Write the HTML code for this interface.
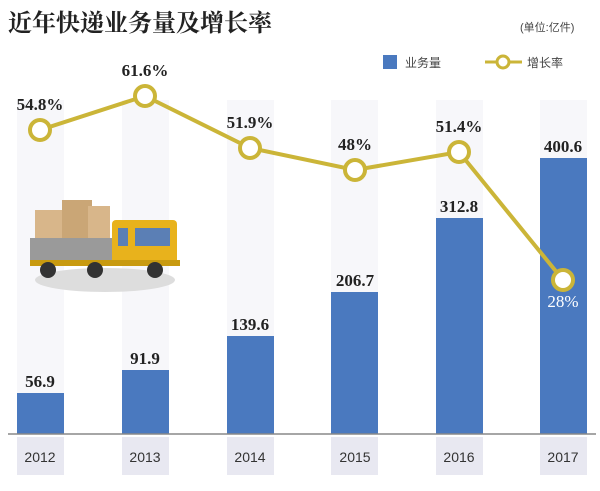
<!DOCTYPE html>
<html><head><meta charset="utf-8"><style>
body{margin:0;background:#fff}
svg{display:block}
.v{font-family:"Liberation Serif","Noto Serif CJK SC",serif;font-weight:bold;font-size:17px;fill:#222;text-anchor:middle}
.y{font-family:"Liberation Sans",sans-serif;font-size:14px;fill:#333;text-anchor:middle}
</style></head><body>
<svg width="600" height="491" viewBox="0 0 600 491">
<rect width="600" height="491" fill="#fff"/>
<g fill="#f7f7fa">
<rect x="17" y="100" width="47" height="334"/><rect x="122" y="100" width="47" height="334"/>
<rect x="227" y="100" width="47" height="334"/><rect x="331" y="100" width="47" height="334"/>
<rect x="436" y="100" width="47" height="334"/><rect x="540" y="100" width="47" height="334"/>
</g>
<g fill="#e8e8f1">
<rect x="17" y="437" width="47" height="38"/><rect x="122" y="437" width="47" height="38"/>
<rect x="227" y="437" width="47" height="38"/><rect x="331" y="437" width="47" height="38"/>
<rect x="436" y="437" width="47" height="38"/><rect x="540" y="437" width="47" height="38"/>
</g>
<g fill="#4a79bf">
<rect x="17" y="393" width="47" height="41"/><rect x="122" y="370" width="47" height="64"/>
<rect x="227" y="336" width="47" height="98"/><rect x="331" y="292" width="47" height="142"/>
<rect x="436" y="218" width="47" height="216"/><rect x="540" y="158" width="47" height="276"/>
</g>
<line x1="8" y1="434" x2="596" y2="434" stroke="#888" stroke-width="1.5"/>
<g class="y"><text x="40" y="462">2012</text><text x="145" y="462">2013</text><text x="250" y="462">2014</text><text x="355" y="462">2015</text><text x="459" y="462">2016</text><text x="563" y="462">2017</text></g>
<g class="v"><text x="40" y="387">56.9</text><text x="145" y="364">91.9</text><text x="250" y="330">139.6</text><text x="355" y="286">206.7</text><text x="459" y="212">312.8</text><text x="563" y="152">400.6</text></g>
<g>
<ellipse cx="105" cy="280" rx="70" ry="12" fill="#ddd"/>
<rect x="35" y="210" width="30" height="30" fill="#d8b68a"/><rect x="62" y="200" width="30" height="40" fill="#caa676"/><rect x="88" y="206" width="22" height="34" fill="#d8b68a"/>
<rect x="30" y="238" width="85" height="22" fill="#9a9a9a"/>
<rect x="112" y="220" width="65" height="45" rx="4" fill="#e8b21c"/>
<rect x="118" y="228" width="10" height="18" fill="#5b7fb5"/><rect x="135" y="228" width="35" height="18" fill="#5b7fb5"/>
<rect x="30" y="260" width="150" height="6" fill="#c89a10"/>
<circle cx="48" cy="270" r="8" fill="#333"/><circle cx="95" cy="270" r="8" fill="#333"/><circle cx="155" cy="270" r="8" fill="#333"/>
</g>
<polyline points="40,130 145,96 250,148 355,170 459,152 563,280" fill="none" stroke="#cbb538" stroke-width="4"/>
<g fill="#fff" stroke="#cbb538" stroke-width="4">
<circle cx="40" cy="130" r="10"/><circle cx="145" cy="96" r="10"/><circle cx="250" cy="148" r="10"/><circle cx="355" cy="170" r="10"/><circle cx="459" cy="152" r="10"/><circle cx="563" cy="280" r="10"/>
</g>
<g class="v"><text x="40" y="110">54.8%</text><text x="145" y="76">61.6%</text><text x="250" y="128">51.9%</text><text x="355" y="150">48%</text><text x="459" y="132">51.4%</text><text x="563" y="307" style="fill:#fff;font-weight:normal">28%</text></g>
<text x="8" y="31" style="font-family:'Liberation Serif','Noto Serif CJK SC',serif;font-weight:bold;font-size:24px;fill:#222">近年快递业务量及增长率</text>
<text x="520" y="31" style="font-family:'Liberation Sans','Noto Sans CJK SC',sans-serif;font-size:11px;fill:#444">(单位:亿件)</text>
<rect x="383" y="55" width="14" height="14" fill="#4a79bf"/>
<text x="405" y="67" style="font-family:'Liberation Sans','Noto Sans CJK SC',sans-serif;font-size:12px;fill:#444">业务量</text>
<line x1="485" y1="62" x2="522" y2="62" stroke="#cbb538" stroke-width="3"/>
<circle cx="503" cy="62" r="6" fill="#fff" stroke="#cbb538" stroke-width="3"/>
<text x="527" y="67" style="font-family:'Liberation Sans','Noto Sans CJK SC',sans-serif;font-size:12px;fill:#444">增长率</text>
</svg>
</body></html>
